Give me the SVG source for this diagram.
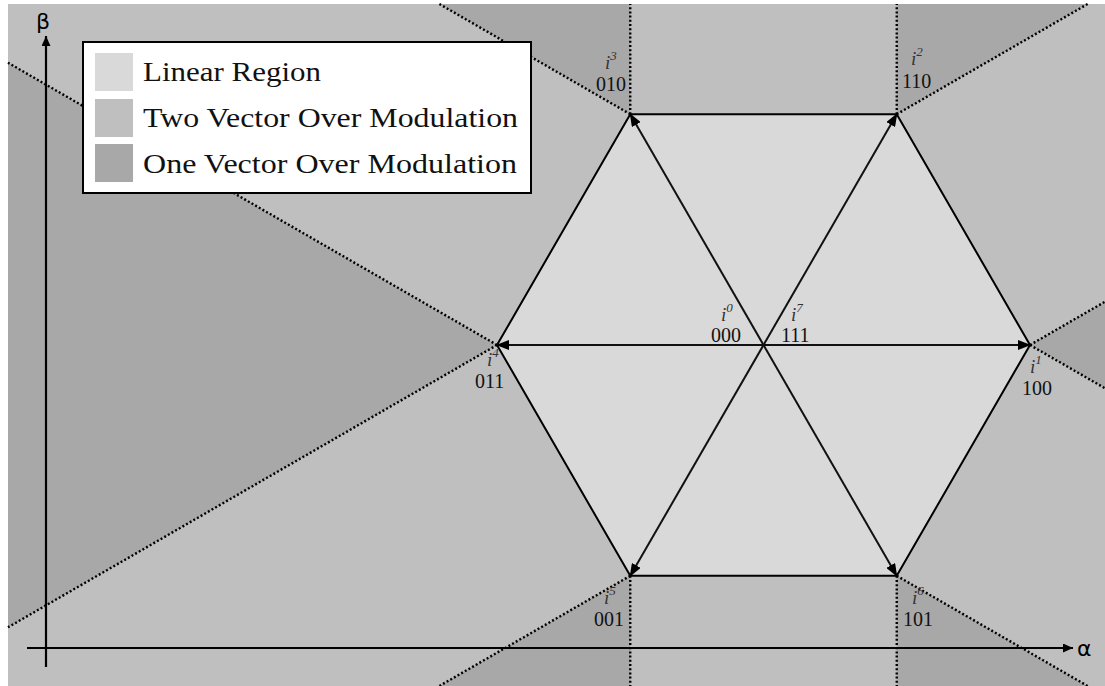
<svg xmlns="http://www.w3.org/2000/svg" width="1105" height="686" viewBox="0 0 1105 686">
  <style>
    .two { fill: #bfbfbf; }
    .one { fill: #a8a8a8; }
    .lin { fill: #d9d9d9; }
    .dot { stroke: #000; stroke-width: 2.4; stroke-dasharray: 2 2.2; fill: none; }
    .edge { stroke: #000; stroke-width: 2; fill: none; stroke-linejoin: miter; }
    .vec { stroke: #111; stroke-width: 2; marker-end: url(#head); }
    .axis { stroke: #000; stroke-width: 2.2; marker-end: url(#axhead); }
    .code { font-family: "Liberation Serif", serif; font-size: 20px; fill: #111; }
    .sym { font-family: "Liberation Serif", serif; font-style: italic; font-size: 19px; fill: #333; }
    .sup { font-size: 13px; }
    .leg { font-family: "Liberation Serif", serif; font-size: 27px; fill: #111; }
    .axlabel { font-family: "DejaVu Sans", sans-serif; font-size: 22px; fill: #000; }
  </style>
  <defs>
    <marker id="head" viewBox="0 0 13 10" refX="12" refY="5" markerWidth="13" markerHeight="10" markerUnits="userSpaceOnUse" orient="auto">
      <path d="M0,0 L13,5 L0,10 z" fill="#000"/>
    </marker>
    <marker id="axhead" viewBox="0 0 10 9" refX="10" refY="4.5" markerWidth="10" markerHeight="9" markerUnits="userSpaceOnUse" orient="auto">
      <path d="M0,0 L10,4.5 L0,9 z" fill="#000"/>
    </marker>
  </defs>

  <!-- regions: two-vector band background, one-vector wedges at each vertex, linear hexagon -->
  <g id="regions">
    <rect class="two" x="8" y="4" width="1097" height="682"/>
    <polygon class="one" points="1030,345 1105,301.7 1105,388.3"/>
    <polygon class="one" points="896.75,114.2 896.75,4 1087.6,4"/>
    <polygon class="one" points="630.25,114.2 630.25,4 439.4,4"/>
    <polygon class="one" points="497,345 8,62.7 8,627.3"/>
    <polygon class="one" points="630.25,575.8 630.25,686 439.4,686"/>
    <polygon class="one" points="896.75,575.8 896.75,686 1087.6,686"/>
    <polygon class="lin" points="1030,345 896.75,114.2 630.25,114.2 497,345 630.25,575.8 896.75,575.8"/>
  </g>

  <!-- region boundaries -->
  <g id="boundaries">
    <line class="dot" x1="1030" y1="345" x2="1105" y2="301.7"/>
    <line class="dot" x1="1030" y1="345" x2="1105" y2="388.3"/>
    <line class="dot" x1="896.75" y1="114.2" x2="896.75" y2="4"/>
    <line class="dot" x1="896.75" y1="114.2" x2="1087.6" y2="4"/>
    <line class="dot" x1="630.25" y1="114.2" x2="630.25" y2="4"/>
    <line class="dot" x1="630.25" y1="114.2" x2="439.4" y2="4"/>
    <line class="dot" x1="497" y1="345" x2="8" y2="62.7"/>
    <line class="dot" x1="497" y1="345" x2="8" y2="627.3"/>
    <line class="dot" x1="630.25" y1="575.8" x2="630.25" y2="686"/>
    <line class="dot" x1="630.25" y1="575.8" x2="439.4" y2="686"/>
    <line class="dot" x1="896.75" y1="575.8" x2="896.75" y2="686"/>
    <line class="dot" x1="896.75" y1="575.8" x2="1087.6" y2="686"/>
  </g>

  <!-- axes -->
  <g id="axes">
    <line class="axis" x1="46" y1="667" x2="46" y2="36"/>
    <line class="axis" x1="27" y1="648" x2="1073" y2="648"/>
    <text class="axlabel" x="1077" y="656">α</text>
    <text class="axlabel" x="36" y="29">β</text>
  </g>

  <!-- hexagon and voltage vectors -->
  <g id="connectors">
    <polygon class="edge" points="1030,345 896.75,114.2 630.25,114.2 497,345 630.25,575.8 896.75,575.8"/>
    <line class="vec" x1="763.5" y1="345" x2="1030" y2="345"/>
    <line class="vec" x1="763.5" y1="345" x2="896.75" y2="114.2"/>
    <line class="vec" x1="763.5" y1="345" x2="630.25" y2="114.2"/>
    <line class="vec" x1="763.5" y1="345" x2="497" y2="345"/>
    <line class="vec" x1="763.5" y1="345" x2="630.25" y2="575.8"/>
    <line class="vec" x1="763.5" y1="345" x2="896.75" y2="575.8"/>
  </g>

  <g id="v1">
    <text class="sym" x="1030" y="373">i<tspan class="sup" dy="-9">1</tspan></text>
    <text class="code" x="1022" y="395">100</text>
  </g>
  <g id="v2">
    <text class="sym" x="911" y="65">i<tspan class="sup" dy="-9">2</tspan></text>
    <text class="code" x="902" y="88">110</text>
  </g>
  <g id="v3">
    <text class="sym" x="605" y="69">i<tspan class="sup" dy="-9">3</tspan></text>
    <text class="code" x="596" y="91">010</text>
  </g>
  <g id="v4">
    <text class="sym" x="487" y="366">i<tspan class="sup" dy="-9">4</tspan></text>
    <text class="code" x="475" y="388">011</text>
  </g>
  <g id="v5">
    <text class="sym" x="604" y="604">i<tspan class="sup" dy="-9">5</tspan></text>
    <text class="code" x="594" y="626">001</text>
  </g>
  <g id="v6">
    <text class="sym" x="912" y="604">i<tspan class="sup" dy="-9">6</tspan></text>
    <text class="code" x="903" y="626">101</text>
  </g>
  <g id="v0">
    <text class="sym" x="721" y="321">i<tspan class="sup" dy="-9">0</tspan></text>
    <text class="code" x="711" y="342">000</text>
  </g>
  <g id="v7">
    <text class="sym" x="791" y="321">i<tspan class="sup" dy="-9">7</tspan></text>
    <text class="code" x="781" y="342">111</text>
  </g>

  <!-- legend -->
  <g id="legend">
    <rect x="83" y="42" width="448" height="151" fill="#fff" stroke="#000" stroke-width="2"/>
    <rect class="lin" x="95" y="53" width="38" height="38"/>
    <rect class="two" x="95" y="99" width="38" height="38"/>
    <rect class="one" x="95" y="144" width="38" height="38"/>
    <text class="leg" x="143" y="81" textLength="178" lengthAdjust="spacingAndGlyphs">Linear Region</text>
    <text class="leg" x="143" y="127" textLength="375" lengthAdjust="spacingAndGlyphs">Two Vector Over Modulation</text>
    <text class="leg" x="143" y="173" textLength="374" lengthAdjust="spacingAndGlyphs">One Vector Over Modulation</text>
  </g>
</svg>
